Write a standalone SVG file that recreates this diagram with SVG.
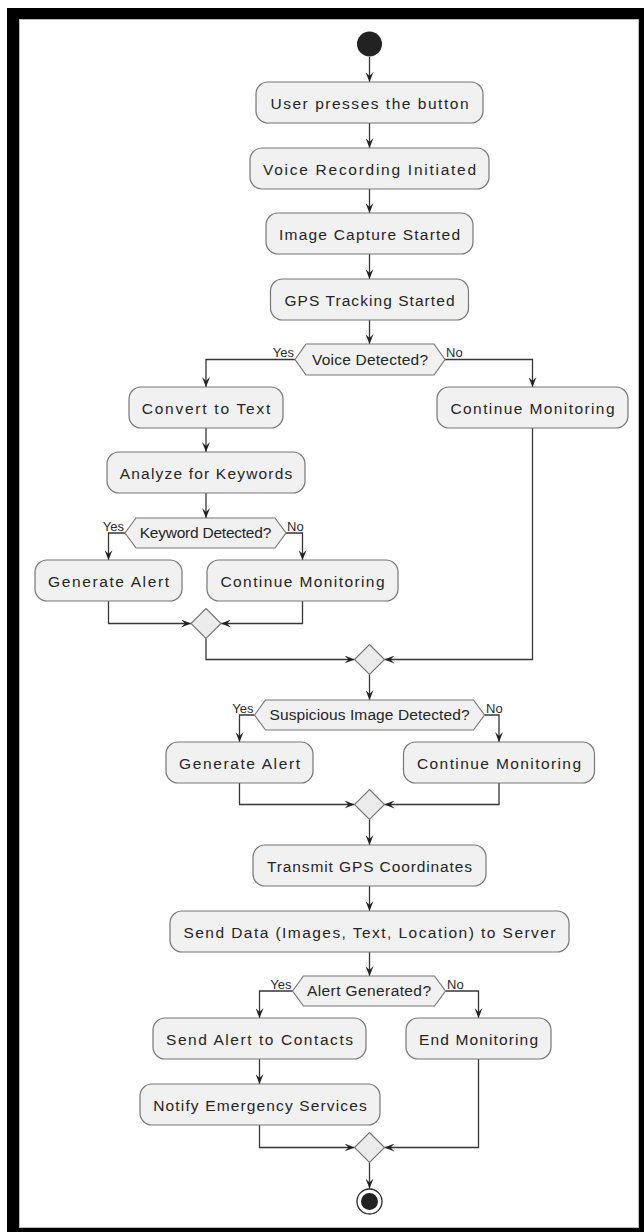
<svg xmlns="http://www.w3.org/2000/svg" width="644" height="1232" viewBox="0 0 644 1232">
<style>
.box{fill:#f1f1f1;stroke:#777;stroke-width:1.2}
.hex{fill:#f1f1f1;stroke:#777;stroke-width:1.2}
.dia{fill:#ececec;stroke:#777;stroke-width:1.2}
.t{font-family:"Liberation Sans",Arial,sans-serif;font-size:15.5px;fill:#252525;text-anchor:middle}
.lb{font-family:"Liberation Sans",Arial,sans-serif;font-size:13px;fill:#2a2a2a}
.c{fill:none;stroke:#363636;stroke-width:1.3}
</style>
<defs>
<marker id="ah" viewBox="0 0 10 8" refX="10" refY="4" markerWidth="10" markerHeight="8" markerUnits="userSpaceOnUse" orient="auto">
<path d="M0,0 L10,4 L0,8 L4,4 Z" fill="#222"/>
</marker>
</defs>
<rect x="7" y="8" width="637" height="1224" fill="#000"/>
<rect x="19.5" y="19.5" width="619" height="1208" fill="#fff" stroke="#bbb" stroke-width="1"/>

<g id="connectors">
<path class="c" marker-end="url(#ah)" d="M369.5,57 V82"/>
<path class="c" marker-end="url(#ah)" d="M369.5,123 V148"/>
<path class="c" marker-end="url(#ah)" d="M369.5,189 V213"/>
<path class="c" marker-end="url(#ah)" d="M369.5,254 V279"/>
<path class="c" marker-end="url(#ah)" d="M369.5,320 V344"/>
<path class="c" marker-end="url(#ah)" d="M295,359.5 H206 V387"/>
<path class="c" marker-end="url(#ah)" d="M445,359.5 H532.5 V387"/>
<path class="c" marker-end="url(#ah)" d="M206,428 V452"/>
<path class="c" marker-end="url(#ah)" d="M206,493 V518"/>
<path class="c" marker-end="url(#ah)" d="M125,533 H108.5 V560"/>
<path class="c" marker-end="url(#ah)" d="M286,533 H302.5 V560"/>
<path class="c" marker-end="url(#ah)" d="M108.5,601 V623.5 H191"/>
<path class="c" marker-end="url(#ah)" d="M302.5,601 V623.5 H221"/>
<path class="c" marker-end="url(#ah)" d="M206,638.5 V659.5 H354.5"/>
<path class="c" marker-end="url(#ah)" d="M532.5,428 V659.5 H384.5"/>
<path class="c" marker-end="url(#ah)" d="M369.5,674.5 V700"/>
<path class="c" marker-end="url(#ah)" d="M254.5,715 H239.5 V742"/>
<path class="c" marker-end="url(#ah)" d="M484.5,715 H499 V742"/>
<path class="c" marker-end="url(#ah)" d="M239.5,783 V804.5 H354.5"/>
<path class="c" marker-end="url(#ah)" d="M499,783 V804.5 H384.5"/>
<path class="c" marker-end="url(#ah)" d="M369.5,819.5 V845"/>
<path class="c" marker-end="url(#ah)" d="M369.5,886 V911"/>
<path class="c" marker-end="url(#ah)" d="M369.5,952 V976"/>
<path class="c" marker-end="url(#ah)" d="M292.5,991 H259.5 V1018"/>
<path class="c" marker-end="url(#ah)" d="M445.5,991 H478.5 V1018"/>
<path class="c" marker-end="url(#ah)" d="M259.5,1059 V1084"/>
<path class="c" marker-end="url(#ah)" d="M259.5,1125 V1147.5 H354.5"/>
<path class="c" marker-end="url(#ah)" d="M478.5,1059 V1147.5 H384.5"/>
<path class="c" marker-end="url(#ah)" d="M369.5,1162.5 V1188.5"/>
</g>

<g id="start"><circle cx="369.5" cy="44" r="12.5" fill="#222"/></g>

<g id="n1"><rect class="box" x="256" y="82" width="227" height="41" rx="12"/><text class="t" x="369.5" y="108.5" textLength="198" lengthAdjust="spacing">User presses the button</text></g>
<g id="n2"><rect class="box" x="250" y="148" width="239" height="41" rx="12"/><text class="t" x="369.5" y="174.5" textLength="213" lengthAdjust="spacing">Voice Recording Initiated</text></g>
<g id="n3"><rect class="box" x="266" y="213" width="207" height="41" rx="12"/><text class="t" x="369.5" y="239.5" textLength="181" lengthAdjust="spacing">Image Capture Started</text></g>
<g id="n4"><rect class="box" x="270.5" y="279" width="198" height="41" rx="12"/><text class="t" x="369.5" y="305.5" textLength="170" lengthAdjust="spacing">GPS Tracking Started</text></g>

<g id="d1"><polygon class="hex" points="295,359.5 306,344 434,344 445,359.5 434,375 306,375"/><text class="t" x="370" y="364.5" textLength="116" lengthAdjust="spacing">Voice Detected?</text>
<text class="lb" x="294" y="357" text-anchor="end">Yes</text><text class="lb" x="446" y="357">No</text></g>

<g id="n5"><rect class="box" x="129" y="387" width="154" height="41" rx="12"/><text class="t" x="206" y="413.5" textLength="128.5" lengthAdjust="spacing">Convert to Text</text></g>
<g id="n6"><rect class="box" x="437" y="387" width="191" height="41" rx="12"/><text class="t" x="532.5" y="413.5" textLength="164" lengthAdjust="spacing">Continue Monitoring</text></g>
<g id="n7"><rect class="box" x="107" y="452" width="198" height="41" rx="12"/><text class="t" x="206" y="478.5" textLength="172.5" lengthAdjust="spacing">Analyze for Keywords</text></g>

<g id="d2"><polygon class="hex" points="125,533 136,518 275,518 286,533 275,548 136,548"/><text class="t" x="205.5" y="538" textLength="131.5" lengthAdjust="spacing">Keyword Detected?</text>
<text class="lb" x="124" y="530.5" text-anchor="end">Yes</text><text class="lb" x="287" y="530.5">No</text></g>

<g id="n8"><rect class="box" x="35" y="560" width="147" height="41" rx="12"/><text class="t" x="108.5" y="586.5" textLength="121" lengthAdjust="spacing">Generate Alert</text></g>
<g id="n9"><rect class="box" x="207" y="560" width="191" height="41" rx="12"/><text class="t" x="302.5" y="586.5" textLength="164" lengthAdjust="spacing">Continue Monitoring</text></g>

<g id="m1"><polygon class="dia" points="206,608.5 221,623.5 206,638.5 191,623.5"/></g>
<g id="m2"><polygon class="dia" points="369.5,644.5 384.5,659.5 369.5,674.5 354.5,659.5"/></g>

<g id="d3"><polygon class="hex" points="254.5,715 265.5,700 473.5,700 484.5,715 473.5,730 265.5,730"/><text class="t" x="369.5" y="720" textLength="200" lengthAdjust="spacing">Suspicious Image Detected?</text>
<text class="lb" x="253.5" y="712.5" text-anchor="end">Yes</text><text class="lb" x="486" y="712.5">No</text></g>

<g id="n10"><rect class="box" x="166" y="742" width="147" height="41" rx="12"/><text class="t" x="239.5" y="768.5" textLength="121" lengthAdjust="spacing">Generate Alert</text></g>
<g id="n11"><rect class="box" x="403.5" y="742" width="191" height="41" rx="12"/><text class="t" x="499" y="768.5" textLength="164" lengthAdjust="spacing">Continue Monitoring</text></g>

<g id="m3"><polygon class="dia" points="369.5,789.5 384.5,804.5 369.5,819.5 354.5,804.5"/></g>

<g id="n12"><rect class="box" x="253" y="845" width="233" height="41" rx="12"/><text class="t" x="369.5" y="871.5" textLength="205" lengthAdjust="spacing">Transmit GPS Coordinates</text></g>
<g id="n13"><rect class="box" x="170" y="911" width="399" height="41" rx="12"/><text class="t" x="369.5" y="937.5" textLength="372" lengthAdjust="spacing">Send Data (Images, Text, Location) to Server</text></g>

<g id="d4"><polygon class="hex" points="292.5,991 303.5,976 434.5,976 445.5,991 434.5,1006 303.5,1006"/><text class="t" x="369" y="996" textLength="124" lengthAdjust="spacing">Alert Generated?</text>
<text class="lb" x="291.5" y="988.5" text-anchor="end">Yes</text><text class="lb" x="447" y="988.5">No</text></g>

<g id="n14"><rect class="box" x="153" y="1018" width="213" height="41" rx="12"/><text class="t" x="259.5" y="1044.5" textLength="187" lengthAdjust="spacing">Send Alert to Contacts</text></g>
<g id="n15"><rect class="box" x="406" y="1018" width="145" height="41" rx="12"/><text class="t" x="478.5" y="1044.5" textLength="119" lengthAdjust="spacing">End Monitoring</text></g>
<g id="n16"><rect class="box" x="140" y="1084" width="240" height="41" rx="12"/><text class="t" x="260" y="1110.5" textLength="213.5" lengthAdjust="spacing">Notify Emergency Services</text></g>

<g id="m4"><polygon class="dia" points="369.5,1132.5 384.5,1147.5 369.5,1162.5 354.5,1147.5"/></g>

<g id="end"><circle cx="369.5" cy="1201.5" r="12.5" fill="#fff" stroke="#2a2a2a" stroke-width="1.3"/><circle cx="369.5" cy="1201.5" r="8.5" fill="#222"/></g>
</svg>
